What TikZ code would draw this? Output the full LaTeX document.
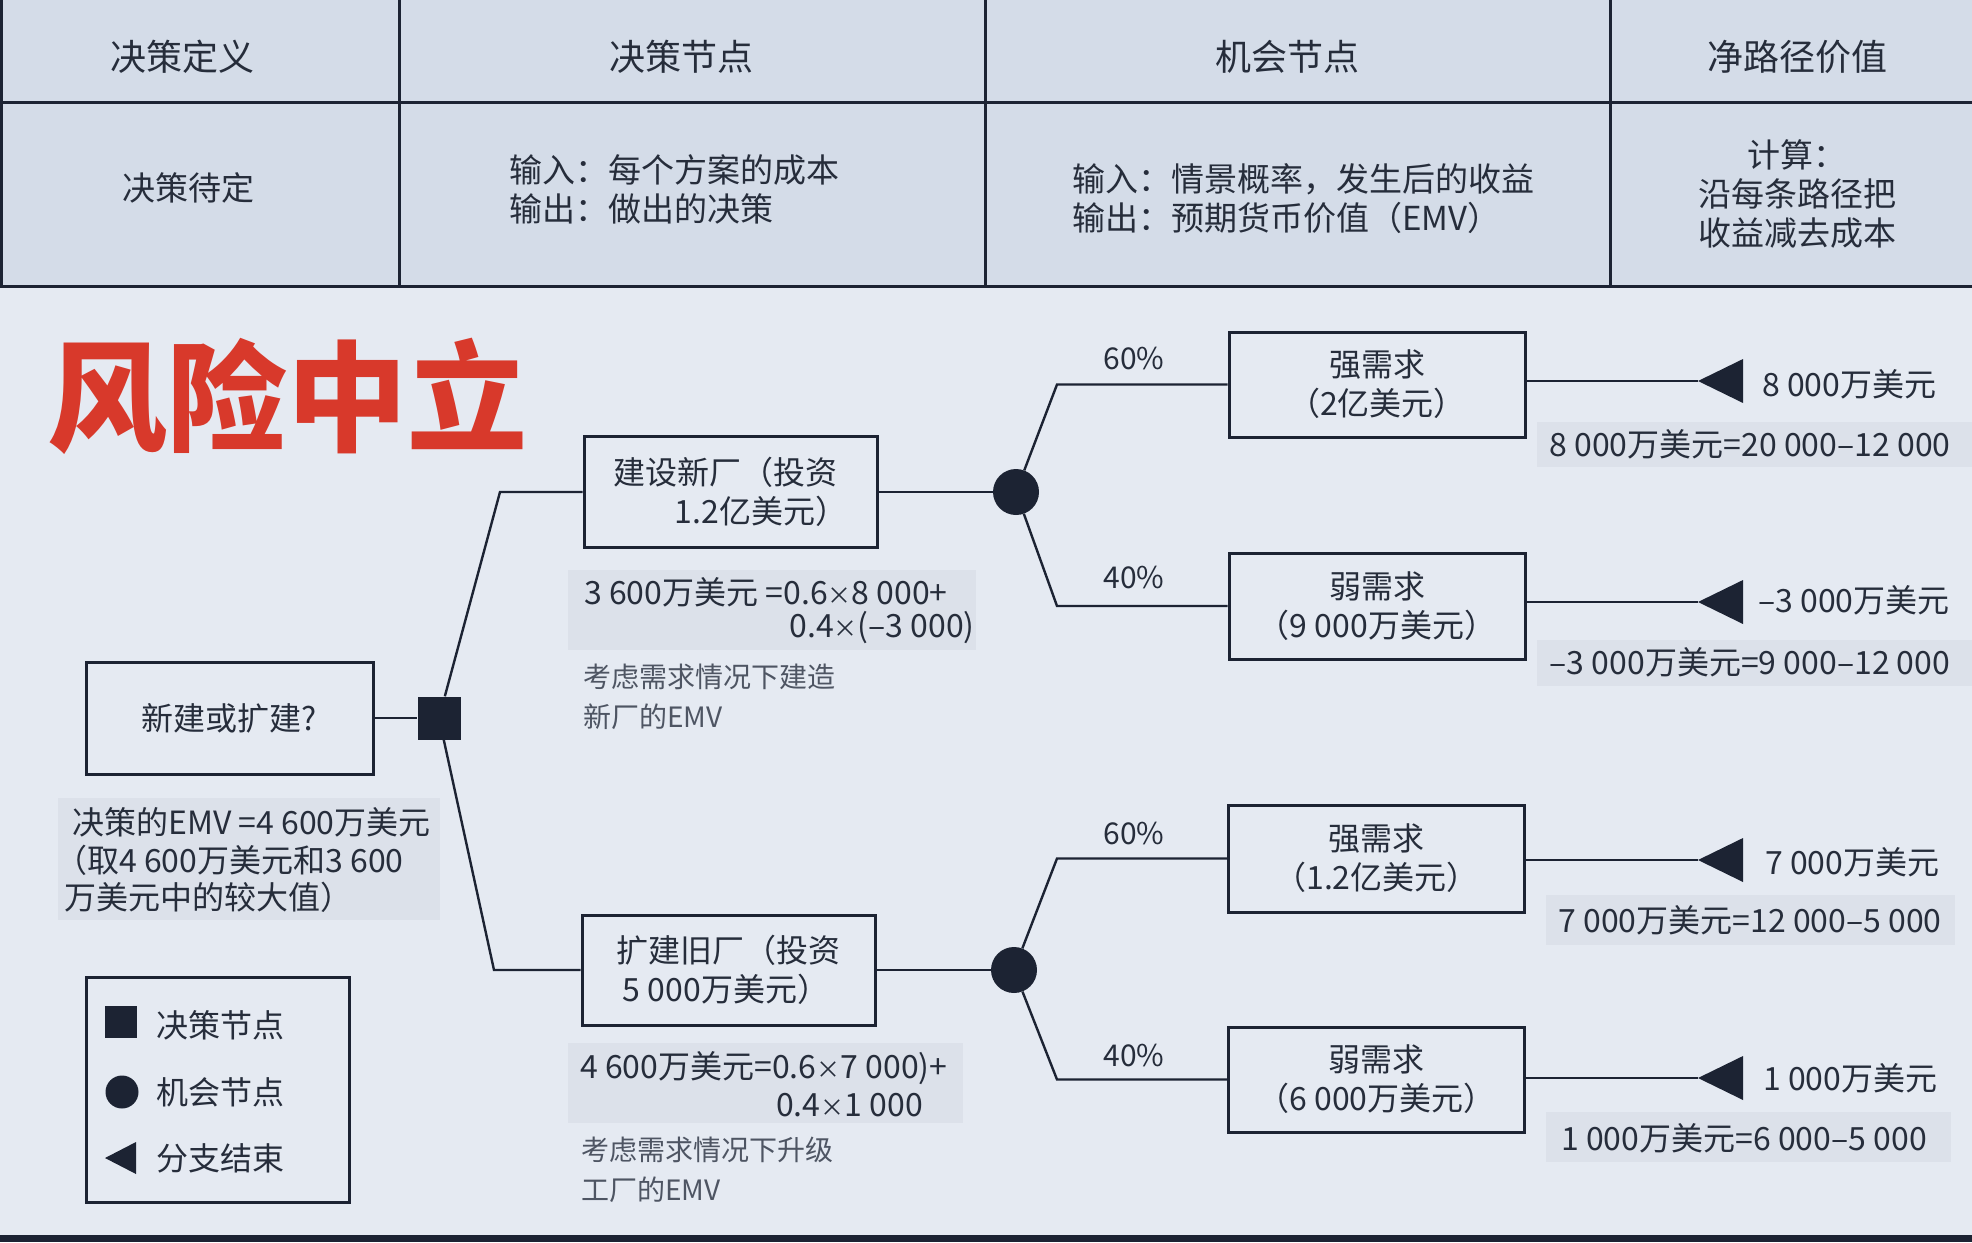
\documentclass[tikz,border=0pt]{standalone}
\usepackage{fontspec}
\setmainfont{Noto Sans CJK SC}
\usetikzlibrary{calc}
\definecolor{tbl}{HTML}{D4DCE8}
\definecolor{bgc}{HTML}{E5EAF2}
\definecolor{hl}{HTML}{DCE1EA}
\definecolor{ink}{HTML}{1C2333}
\definecolor{txt}{HTML}{262D3B}
\definecolor{subc}{HTML}{4E5563}
\definecolor{titlered}{HTML}{D8392B}
\newcommand\fsz[2]{\fontsize{#1}{#2}\selectfont}
\begin{document}
\begin{tikzpicture}[x=1pt,y=-1pt,
  every node/.style={text=txt},
  lbl/.style={font=\fsz{32}{39}, inner sep=0},
  hd/.style={font=\fsz{36}{44}, inner sep=0},
  cell/.style={font=\fsz{33}{39}, inner sep=0, align=left},
  box/.style={draw=ink, line width=3, inner sep=0, font=\fsz{32}{39}, align=center},
  conn/.style={draw=ink, line width=2.4},
  subt/.style={font=\fsz{28}{40}, text=subc, inner sep=0, anchor=west},
  pct/.style={font=\fsz{30}{36}, inner sep=0},
  rule/.style={draw=ink, line width=3}]
% backgrounds
\fill[bgc] (0,0) rectangle (1972,1242);
\fill[tbl] (0,0) rectangle (1972,286);
\useasboundingbox (0,0) rectangle (1972,1242);
\draw[rule] (0,102) -- (1972,102);
\draw[rule] (0,286) -- (1972,286);
\draw[rule] (399,0) -- (399,286);
\draw[rule] (985,0) -- (985,286);
\draw[rule] (1610,0) -- (1610,286);
\draw[rule] (1.5,0) -- (1.5,286);
\fill[ink] (0,1235) rectangle (1972,1242);
% table texts
\node[hd] (h1) at (182,57) {决策定义};
\node[hd] (h2) at (681,57) {决策节点};
\node[hd] (h3) at (1287,57) {机会节点};
\node[hd] (h4) at (1797,57) {净路径价值};
\node[cell] (r1) at (188,188) {决策待定};
\node[cell, anchor=west] (r2) at (509,189) {输入：每个方案的成本\\输出：做出的决策};
\node[cell, anchor=west] (r3) at (1072,199) {输入：情景概率，发生后的收益\\输出：预期货币价值（EMV）};
\node[cell, align=center] (r4) at (1797,194) {计算：\\沿每条路径把\\收益减去成本};
% title
\node[font=\fsz{120}{130}\bfseries, text=titlered, inner sep=0] (title) at (287,396) {风险中立};
% highlights
\fill[hl] (568,570) rectangle (976,650);
\fill[hl] (568,1043) rectangle (963,1123);
\fill[hl] (58,798) rectangle (440,920);
\fill[hl] (1537,422) rectangle (1972,467);
\fill[hl] (1537,640) rectangle (1972,686);
\fill[hl] (1546,895) rectangle (1955,945);
\fill[hl] (1546,1112) rectangle (1951,1162);
% tree nodes
\node[box, minimum width=287, minimum height=112] (q) at (229.5,718) {新建或扩建?};
\node[fill=ink, minimum size=43, inner sep=0] (dec) at (439,718) {};
\coordinate (k1) at (500,492);
\coordinate (k2) at (494,970);
\node[box, align=left, minimum width=293, minimum height=111] (b1) at (730.5,492) {建设新厂（投资\\\hspace*{1.9em}1.2亿美元）};
\node[box, align=left, minimum width=293, minimum height=110] (b2) at (728.5,970) {扩建旧厂（投资\\\hspace*{0.2em}5 000万美元）};
\node[circle, fill=ink, minimum size=46, inner sep=0] (c1) at (1016,492) {};
\node[circle, fill=ink, minimum size=46, inner sep=0] (c2) at (1014,970) {};
\node[box, minimum width=296, minimum height=105] (d1) at (1377,384.5) {强需求\\（2亿美元）};
\node[box, minimum width=296, minimum height=106] (d2) at (1377,606) {弱需求\\（9 000万美元）};
\node[box, minimum width=296, minimum height=107] (d3) at (1376.5,858.5) {强需求\\（1.2亿美元）};
\node[box, minimum width=296, minimum height=105] (d4) at (1376.5,1079.5) {弱需求\\（6 000万美元）};
\coordinate (u1) at (1057,384.5);
\coordinate (l1) at (1057,606);
\coordinate (u2) at (1057,858.5);
\coordinate (l2) at (1057,1079.5);
\coordinate (t1) at (1698,381);
\coordinate (t2) at (1698,602);
\coordinate (t3) at (1698,860);
\coordinate (t4) at (1698,1078);
% connectors
\draw[conn] (q) -- (dec);
\draw[conn] (dec) -- (k1) -- (b1.west);
\draw[conn] (dec) -- (k2) -- (b2.west);
\draw[conn] (b1) -- (c1);
\draw[conn] (b2) -- (c2);
\draw[conn] (c1) -- (u1) -- (d1.west);
\draw[conn] (c1) -- (l1) -- (d2.west);
\draw[conn] (c2) -- (u2) -- (d3.west);
\draw[conn] (c2) -- (l2) -- (d4.west);
\draw[conn] (d1.east |- t1) -- (t1);
\draw[conn] (d2.east |- t2) -- (t2);
\draw[conn] (d3.east |- t3) -- (t3);
\draw[conn] (d4.east |- t4) -- (t4);
\foreach \t in {t1,t2,t3,t4}{\fill[ink] (\t) -- ++(45,-22) -- ++(0,44) -- cycle;}
% probabilities
\node[pct] (p1) at (1134,358) {60\%};
\node[pct] (p2) at (1134,577) {40\%};
\node[pct] (p3) at (1134,833) {60\%};
\node[pct] (p4) at (1134,1055) {40\%};
% end values
\node[lbl, anchor=west] (v1) at (1762,384) {8 000万美元};
\node[lbl, anchor=west] (v2) at (1758,600) {–3 000万美元};
\node[lbl, anchor=west] (v3) at (1765,862) {7 000万美元};
\node[lbl, anchor=west] (v4) at (1763,1078) {1 000万美元};
\node[lbl] (f1) at (1750,444) {8 000万美元=20 000–12 000};
\node[lbl] (f2) at (1750,662) {–3 000万美元=9 000–12 000};
\node[lbl] (f3) at (1750,920) {7 000万美元=12 000–5 000};
\node[lbl] (f4) at (1744,1138) {1 000万美元=6 000–5 000};
% EMV texts
\node[lbl, anchor=west] (e1a) at (584,592) {3 600万美元 =0.6{\fsz{24}{30}×}8 000+};
\node[lbl, anchor=east] (e1b) at (975,628) {0.4{\fsz{24}{30}×}(–3 000)};
\node[subt] (s1a) at (583,677) {考虑需求情况下建造};
\node[subt] (s1b) at (583,717) {新厂的EMV};
\node[lbl, anchor=west] (e2a) at (580,1068) {4 600万美元=0.6{\fsz{24}{30}×}7 000)+};
\node[lbl, anchor=east] (e2b) at (923,1105) {0.4{\fsz{24}{30}×}1 000};
\node[subt] (s2a) at (581,1150) {考虑需求情况下升级};
\node[subt] (s2b) at (581,1190) {工厂的EMV};
\node[lbl, anchor=west] (m1) at (72,822) {决策的EMV =4 600万美元};
\node[lbl, anchor=west] (m2) at (55,860) {（取4 600万美元和3 600};
\node[lbl, anchor=west] (m3) at (64,897) {万美元中的较大值）};
% legend
\node[draw=ink, line width=3, minimum width=263, minimum height=225, inner sep=0] (leg) at (217.5,1089.5) {};
\node[fill=ink, minimum size=32, inner sep=0] (lsq) at (121,1022) {};
\node[circle, fill=ink, minimum size=33, inner sep=0] (lci) at (122,1092) {};
\fill[ink] (105,1158) -- (136,1142) -- (136,1174) -- cycle;
\node[lbl, anchor=west] (lt1) at (156,1025) {决策节点};
\node[lbl, anchor=west] (lt2) at (156,1092) {机会节点};
\node[lbl, anchor=west] (lt3) at (156,1158) {分支结束};
\end{tikzpicture}
\end{document}
